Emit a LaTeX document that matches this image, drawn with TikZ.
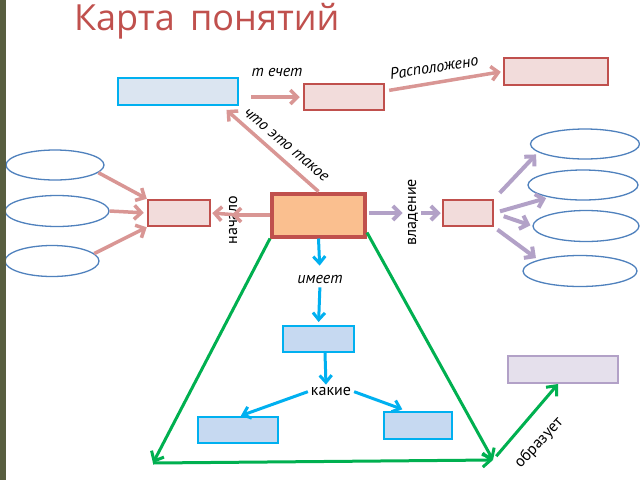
\documentclass[tikz,border=0pt]{standalone}
\usepackage{fontspec}
\setmainfont{PT Sans}
\newfontfamily\titlefont{Open Sans}
\usetikzlibrary{arrows.meta,shapes.geometric}
\definecolor{pinkline}{RGB}{217,150,148}
\definecolor{redborder}{RGB}{192,80,77}
\definecolor{pinkfill}{RGB}{242,220,219}
\definecolor{orangefill}{RGB}{250,191,143}
\definecolor{cyanborder}{RGB}{0,176,240}
\definecolor{bluefill}{RGB}{198,217,241}
\definecolor{lightbluefill}{RGB}{219,229,241}
\definecolor{ellblue}{RGB}{79,129,189}
\definecolor{purpleline}{RGB}{178,161,199}
\definecolor{purplefill}{RGB}{229,224,236}
\definecolor{greenline}{RGB}{0,176,80}
\definecolor{stripcol}{RGB}{88,94,64}
\begin{document}
\begin{tikzpicture}[x=1pt,y=-1pt,
  pinkbox/.style={draw=redborder, fill=pinkfill, line width=2.5pt, inner sep=0pt, rectangle},
  centerbox/.style={draw=redborder, fill=orangefill, line width=4pt, inner sep=0pt, rectangle},
  bluebox/.style={draw=cyanborder, fill=bluefill, line width=2pt, inner sep=0pt, rectangle},
  topbluebox/.style={draw=cyanborder, fill=lightbluefill, line width=2pt, inner sep=0pt, rectangle},
  purplebox/.style={draw=purpleline, fill=purplefill, line width=2pt, inner sep=0pt, rectangle},
  oval/.style={draw=ellblue, fill=white, line width=1.3pt, ellipse, inner sep=0pt},
  pinkarrow/.style={draw=pinkline, line width=3.5pt, -{Straight Barb[length=7pt,width=14pt]}},
  purplearrow/.style={draw=purpleline, line width=4pt, -{Straight Barb[length=7pt,width=14pt]}},
  bluearrow/.style={draw=cyanborder, line width=3pt, -{Straight Barb[length=7pt,width=12pt]}},
  greenarrow/.style={draw=greenline, line width=3pt, -{Straight Barb[length=8pt,width=14pt]}},
  lbl/.style={font=\fontsize{16}{18}\selectfont\itshape, inner sep=1pt},
  lblup/.style={font=\fontsize{16}{18}\selectfont, inner sep=1pt}
]
\useasboundingbox (0,0) rectangle (640,480);
\fill[white] (0,0) rectangle (640,480);

% title
\node[anchor=base west, inner sep=0pt, text=redborder, font=\titlefont\fontsize{36}{40}\selectfont] (title) at (74,30) {Карта\, понятий};

% boxes
\node[topbluebox, minimum width=120pt, minimum height=27pt] (tl) at (178,91.5) {};
\node[pinkbox, minimum width=80pt, minimum height=26pt] (pm) at (344,97) {};
\node[pinkbox, minimum width=104pt, minimum height=27pt] (tr) at (556,71.5) {};
\node[centerbox, minimum width=93pt, minimum height=43pt] (c) at (318.5,215) {};
\node[pinkbox, minimum width=62pt, minimum height=26pt] (lp) at (179,213) {};
\node[pinkbox, minimum width=50pt, minimum height=26pt] (rp) at (468,213) {};
\node[bluebox, minimum width=71pt, minimum height=26pt] (bm) at (318.5,339) {};
\node[bluebox, minimum width=80pt, minimum height=26pt] (bbl) at (238,430) {};
\node[bluebox, minimum width=68pt, minimum height=27pt] (bbr) at (418,425.5) {};
\node[purplebox, minimum width=110pt, minimum height=27pt] (pr) at (563,369.5) {};

% ellipses
\node[oval, minimum width=98pt, minimum height=30pt] (e1) at (55,165) {};
\node[oval, minimum width=104pt, minimum height=31pt] (e2) at (57,211) {};
\node[oval, minimum width=94pt, minimum height=31pt] (e3) at (52,261) {};
\node[oval, minimum width=109pt, minimum height=30pt] (re1) at (585,144) {};
\node[oval, minimum width=110pt, minimum height=30pt] (re2) at (583,185) {};
\node[oval, minimum width=106pt, minimum height=31pt] (re3) at (586,226) {};
\node[oval, minimum width=114pt, minimum height=31pt] (re4) at (580,271) {};

% labels
\node[lbl] (tech) at (277,72) {т ечет};
\node[lbl, rotate=9] (rasp) at (434,67) {Расположено};
\node[lbl, rotate=-40] (chto) at (286,145) {что это такое};
\node[lblup, rotate=90] (nach) at (233,220) {начало};
\node[lblup, rotate=90] (vlad) at (413,212) {владение};
\node[lbl] (imeet) at (320,279) {имеет};
\node[lblup] (kakie) at (331,391) {какие};
\node[lblup, rotate=47] (obr) at (539,443) {образует};

% pink connectors
\draw[pinkarrow, shorten <=12pt, shorten >=3pt] (tl.east |- pm.west) -- (pm.west);
\draw[pinkarrow, shorten <=4pt, shorten >=2pt] ([yshift=6pt]pm.east) -- (tr.west);
\draw[pinkarrow, shorten >=6pt] (c.north) -- ([xshift=44pt]tl.south);
\draw[pinkarrow, shorten >=4pt] (c.west) -- (nach.north |- c.west);
\draw[pinkarrow, shorten <=3pt, shorten >=1pt] (nach.south |- c.west) -- (lp.east);
\draw[pinkarrow] (e1.-10) -- (lp.north west);
\draw[pinkarrow, shorten >=3pt] (e2.east) -- (lp.west);
\draw[pinkarrow] (e3.10) -- (lp.south west);

% purple connectors
\draw[purplearrow, shorten <=2pt, shorten >=4pt] (c.east |- rp.west) -- (vlad.north |- rp.west);
\draw[purplearrow, shorten <=2pt, shorten >=1pt] (vlad.south |- rp.west) -- (rp.west);
\draw[purplearrow, shorten <=8pt, shorten >=3pt] (rp.north east) -- (re1.190);
\draw[purplearrow, shorten <=6pt, shorten >=3pt] (rp.east) -- (re2.200);
\draw[purplearrow, shorten <=10pt, shorten >=2pt] (rp.east) -- (re3.west);
\draw[purplearrow, shorten <=4pt, shorten >=3pt] (rp.south east) -- (re4.165);

% blue connectors
\draw[bluearrow, shorten >=8pt] (c.south) -- (imeet.north);
\draw[bluearrow, shorten <=3pt, shorten >=3pt] (imeet.south) -- (bm.north);
\draw[bluearrow, shorten >=1pt] ([xshift=6.5pt]bm.south) -- ([xshift=-5pt]kakie.north);
\draw[bluearrow, shorten <=2pt, shorten >=1pt] (kakie.west) -- ([xshift=2pt]bbl.north);
\draw[bluearrow, shorten <=2pt, shorten >=5pt] (kakie.east) -- ([xshift=-11pt]bbr.north);

% green connectors
\coordinate (gl) at (153,463);
\coordinate (gr) at (493,460);
\draw[greenarrow] (c.south west) -- (gl);
\draw[greenarrow] ([yshift=6pt]c.south east) -- (gr);
\draw[greenarrow] (gl) -- (gr);
\draw[greenarrow, shorten <=5pt] (gr) -- ([xshift=-5pt]pr.south);

% left strip
\fill[stripcol] (0,0) rectangle (6,480);
\end{tikzpicture}
\end{document}
